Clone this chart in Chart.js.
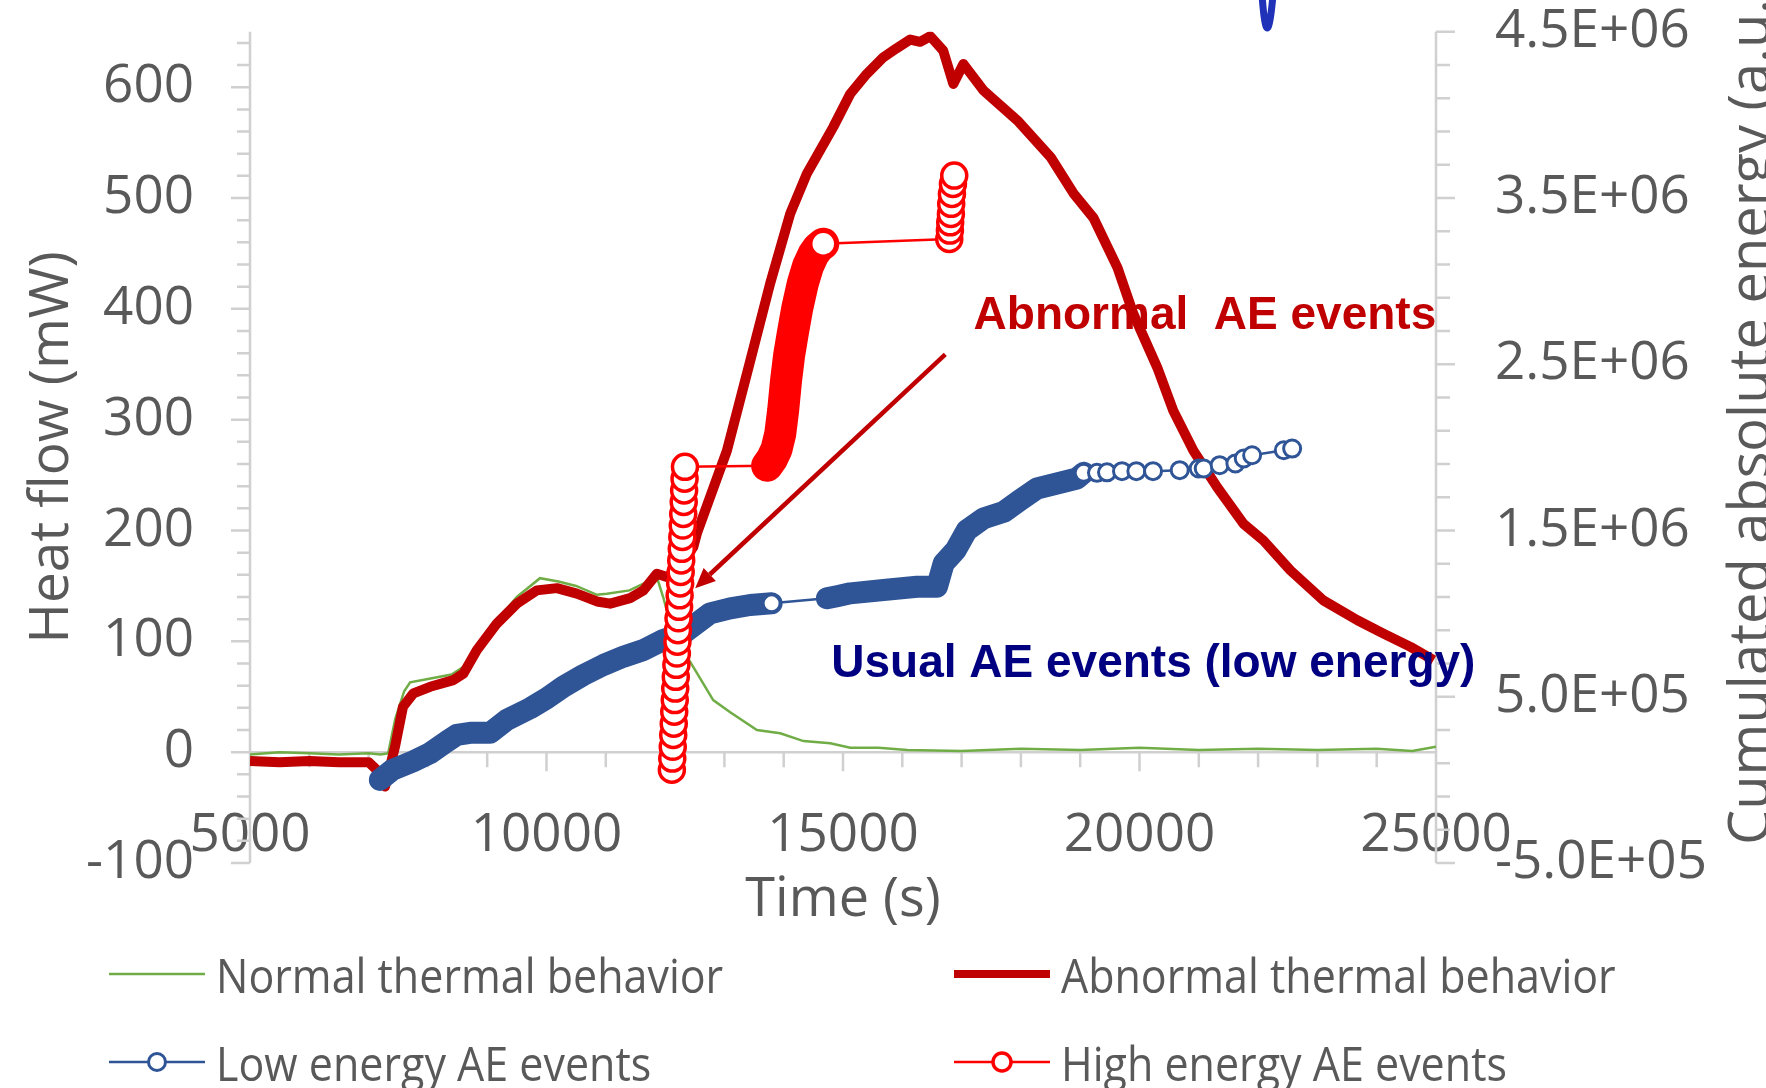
<!DOCTYPE html>
<html>
<head>
<meta charset="utf-8">
<title>Heat flow and AE events</title>
<script src="https://cdn.jsdelivr.net/npm/chart.js"></script>
<style>
  body { margin: 0; background: #fff; }
  #wrap { position: relative; width: 1766px; height: 1088px; overflow: hidden; }
  #legend { position: absolute; left: 0; top: 0; width: 100%; height: 100%; pointer-events: none; }
  #legend .item { position: absolute; display: flex; align-items: center; height: 60px; font: 43px 'Open Sans', sans-serif; color: #595959; white-space: nowrap; }
  #legend .item span { display: inline-block; transform: scaleY(1.12); }
  #legend svg { margin-right: 11px; }
</style>
</head>
<body>
<div id="wrap">
  <canvas id="chart"></canvas>
  <div id="legend"></div>
</div>
<script>
// axis ticks
const timeTicks = [5000, 10000, 15000, 20000, 25000];
const heatTicks = [-100, 0, 100, 200, 300, 400, 500, 600];
const energyTicks = [-5e5, 5e5, 1.5e6, 2.5e6, 3.5e6, 4.5e6];
const timeMinorStep = 1000;
const heatMinorStep = 20;
const energyMinorStep = 2e5;

// normal thermal behavior (heat flow, mW)
const normalTime = [5000, 5500, 6000, 6500, 7000, 7200, 7330, 7450, 7600, 7700, 8000, 8400, 8600, 8850, 9200,
  9500, 9890, 10200, 10500, 10850, 11017, 11400, 11635, 11861, 11967, 12085, 12304, 12530, 12811, 13098,
  13548, 13941, 14335, 14785, 15122, 15600, 16084, 17000, 18000, 19000, 20000, 21000, 22000, 23000, 24000, 24600, 25000];
const normalHeat = [-2, 0, -1, -2, -1, -2, -1, 30, 55, 63, 66, 70, 77, 97, 121,
  140, 157, 154, 150, 142, 143, 146, 152, 158, 140, 117, 92, 72, 47, 36,
  20, 17, 10, 8, 4, 4, 2, 1, 3, 2, 4, 2, 3, 2, 3, 1, 5];

// abnormal thermal behavior (heat flow, mW)
const abnormalTime = [5000, 5500, 6000, 6500, 7000, 7137, 7277, 7446, 7580, 7755, 8037, 8430, 8600, 8824, 9162,
  9500, 9837, 10175, 10512, 10850, 11073, 11410, 11635, 11861, 12030, 12200, 12475, 12540, 13042, 13435,
  13772, 14110, 14391, 14835, 15122, 15400, 15680, 15900, 16134, 16300, 16472, 16690, 16860, 17030, 17370,
  17940, 18500, 18890, 19225, 19630, 19900, 20300, 20570, 20910, 21310, 21755, 22090, 22545, 23100, 23675,
  24115, 24570, 24960];
const abnormalHeat = [-8, -9, -8, -9, -9, -16, -31, 5, 41, 53, 59, 65, 71, 92, 116,
  134, 146, 148, 143, 136, 134, 139, 146, 161, 158, 165, 185, 198, 272, 353,
  423, 486, 522, 564, 594, 612, 627, 635, 643, 641, 646, 633, 603, 621, 597,
  570, 537, 504, 482, 437, 395, 347, 308, 272, 239, 206, 191, 164, 137, 119,
  107, 95, 83];

// low energy AE events (cumulated energy, a.u.)
const lowTime = [7190, 7400, 7750, 8037, 8318, 8487, 8712, 9049, 9330, 9724, 10005, 10286, 10623, 10960, 11298,
  11635, 11973, 12310, 12535, 12760, 13098, 13435, 13796, 14729, 14900, 15122, 15684, 16247, 16585, 16697,
  16900, 17089, 17370, 17708, 17989, 18270, 18608, 18946, 19058, 19283, 19452, 19705, 19947, 20228, 20678,
  20998, 21083, 21352, 21617, 21758, 21899, 22433, 22574];
const lowEnergy = [0, 60000, 111000, 161000, 231000, 271000, 283000, 283000, 361000, 431000, 491000, 561000, 631000, 691000, 741000,
  781000, 842000, 882000, 942000, 1002000, 1032000, 1052000, 1062000, 1092000, 1105000, 1122000, 1142000, 1162000, 1162000, 1302000,
  1382000, 1502000, 1573000, 1612000, 1683000, 1753000, 1783000, 1813000, 1847000, 1847000, 1850000, 1857000, 1857000, 1857000, 1863000,
  1873000, 1873000, 1893000, 1903000, 1933000, 1953000, 1983000, 1993000];
// time spans where low energy events pile up into a solid band
const lowDenseRuns = [[7190, 13796], [14729, 19058]];

// high energy AE events (cumulated energy, a.u.)
const highTime = [12114, 12121, 12129, 12137, 12146, 12154, 12163, 12171, 12180, 12190, 12199, 12208, 12217, 12226, 12236,
  12245, 12254, 12263, 12272, 12281, 12290, 12298, 12306, 12314, 12321, 12328, 12335,
  13720, 13800, 13880, 13941, 13990, 14039, 14090, 14150, 14230, 14325, 14410, 14500, 14580, 14667,
  16792, 16803, 16808, 16820, 16825, 16837, 16854, 16876];
const highEnergy = [61000, 128000, 199000, 270000, 338000, 410000, 480000, 549000, 620000, 692000, 760000, 831000, 900000, 972000, 1041000,
  1110000, 1182000, 1251000, 1320000, 1390000, 1461000, 1530000, 1600000, 1672000, 1741000, 1812000, 1883000,
  1890000, 1930000, 1990000, 2080000, 2220000, 2400000, 2550000, 2680000, 2840000, 2990000, 3090000, 3160000, 3200000, 3225000,
  3254000, 3304000, 3354000, 3404000, 3465000, 3525000, 3585000, 3635000];
const highDenseRuns = [[13720, 14667]];

// annotations, in data units of the heat flow axis
const abnormalNote = { text: 'Abnormal  AE events', x: 17202, y: 382 };
const usualNote = { text: 'Usual AE events (low energy)', x: 14802, y: 68 };
const arrowFrom = { x: 16725, y: 359 };
const arrowTo = { x: 12507, y: 148 };

const legendCols = [109, 954];
const legendRows = [974, 1062];

Chart.defaults.font.family = "'Open Sans', sans-serif";
Chart.defaults.color = '#595959';

function pts(xs, ys) {
  return xs.map((x, i) => ({ x: x, y: ys[i] }));
}

function inRuns(t, runs) {
  return runs.some(r => t >= r[0] && t < r[1]);
}

function segInRuns(ctx, runs) {
  return runs.some(r => ctx.p0.parsed.x >= r[0] && ctx.p1.parsed.x <= r[1]);
}

function sci(v) {
  const e = Math.floor(Math.log10(Math.abs(v)));
  const m = (v / Math.pow(10, e)).toFixed(1);
  return m + 'E' + (e < 0 ? '-' : '+') + String(Math.abs(e)).padStart(2, '0');
}

// invisible tick marks, only used to push the labels away from the axis
function hiddenGrid(len) {
  return { display: true, drawOnChartArea: false, drawTicks: true, tickLength: len, color: 'rgba(0,0,0,0)' };
}

const axisLines = {
  id: 'axisLines',
  beforeDatasetsDraw(chart) {
    const { ctx, chartArea: a, scales: { x, y, y2 } } = chart;
    const y0 = y.getPixelForValue(0);
    ctx.save();
    ctx.strokeStyle = '#d0d0d0';
    ctx.lineWidth = 2.5;
    ctx.beginPath();
    ctx.moveTo(a.left, a.top); ctx.lineTo(a.left, a.bottom);
    ctx.moveTo(a.right, a.top); ctx.lineTo(a.right, a.bottom);
    ctx.moveTo(a.left, y0); ctx.lineTo(a.right, y0);
    for (let k = 0; y.min + k * heatMinorStep <= y.max; k++) {
      const v = y.min + k * heatMinorStep;
      const p = y.getPixelForValue(v);
      ctx.moveTo(a.left - (heatTicks.includes(v) ? 19 : 13), p); ctx.lineTo(a.left, p);
    }
    for (let k = 0; y2.min + k * energyMinorStep <= y2.max + 1; k++) {
      const v = y2.min + k * energyMinorStep;
      const p = y2.getPixelForValue(v);
      ctx.moveTo(a.right, p); ctx.lineTo(a.right + (energyTicks.includes(v) ? 19 : 14), p);
    }
    for (let k = 0; x.min + k * timeMinorStep <= x.max; k++) {
      const v = x.min + k * timeMinorStep;
      const p = x.getPixelForValue(v);
      ctx.moveTo(p, y0); ctx.lineTo(p, y0 + (timeTicks.includes(v) ? 19 : 15));
    }
    ctx.stroke();
    ctx.restore();
  }
};

function drawArrow(ctx, x1, y1, x2, y2) {
  const ang = Math.atan2(y2 - y1, x2 - x1);
  const head = 20, half = 9;
  const bx = x2 - head * Math.cos(ang), by = y2 - head * Math.sin(ang);
  ctx.beginPath(); ctx.moveTo(x1, y1); ctx.lineTo(bx, by); ctx.stroke();
  ctx.beginPath();
  ctx.moveTo(x2, y2);
  ctx.lineTo(bx + half * Math.sin(ang), by - half * Math.cos(ang));
  ctx.lineTo(bx - half * Math.sin(ang), by + half * Math.cos(ang));
  ctx.closePath();
  ctx.fill();
}

const notes = {
  id: 'notes',
  afterDatasetsDraw(chart) {
    const { ctx, scales: { x, y } } = chart;
    ctx.save();
    ctx.font = "bold 46px 'Liberation Sans', Arial, sans-serif";
    ctx.textBaseline = 'alphabetic';
    ctx.textAlign = 'left';
    ctx.fillStyle = '#C00000';
    ctx.fillText(abnormalNote.text, x.getPixelForValue(abnormalNote.x), y.getPixelForValue(abnormalNote.y));
    ctx.fillStyle = '#000080';
    ctx.fillText(usualNote.text, x.getPixelForValue(usualNote.x), y.getPixelForValue(usualNote.y));
    ctx.strokeStyle = '#C00000';
    ctx.fillStyle = '#C00000';
    ctx.lineWidth = 4.5;
    drawArrow(ctx, x.getPixelForValue(arrowFrom.x), y.getPixelForValue(arrowFrom.y),
      x.getPixelForValue(arrowTo.x), y.getPixelForValue(arrowTo.y));
    ctx.restore();
  },
  afterDraw(chart) {
    const { ctx, chartArea: a, scales: { y2 } } = chart;
    ctx.save();
    // right axis title, runs off the top of the picture
    ctx.translate(y2.right + 3, a.bottom - 18);
    ctx.rotate(-Math.PI / 2);
    ctx.font = "56px 'Open Sans', sans-serif";
    ctx.fillStyle = '#595959';
    ctx.textAlign = 'left';
    ctx.textBaseline = 'alphabetic';
    ctx.fillText('Cumulated absolute energy (a.u.)', 0, 0);
    ctx.restore();
    // stray blue stroke at the top edge
    ctx.save();
    ctx.strokeStyle = '#1f32b8';
    ctx.lineWidth = 7;
    ctx.lineCap = 'round';
    ctx.beginPath();
    ctx.moveTo(1262, -5);
    ctx.quadraticCurveTo(1267, 61, 1273, -5);
    ctx.stroke();
    ctx.restore();
  }
};

const htmlLegend = {
  id: 'htmlLegend',
  afterUpdate(chart) {
    const box = document.getElementById('legend');
    box.innerHTML = '';
    chart.data.datasets.forEach((ds, i) => {
      const item = document.createElement('div');
      item.className = 'item';
      item.style.left = legendCols[i % 2] + 'px';
      item.style.top = (legendRows[Math.floor(i / 2)] - 30) + 'px';
      const r = ds.pointRadius ? Math.min(ds.pointRadius, 9) : 0;
      const lw = Math.min(ds.borderWidth, 8);
      const circle = r ? `<circle cx="48" cy="20" r="${r}" fill="#fff" stroke="${ds.borderColor}" stroke-width="${ds.pointBorderWidth}"/>` : '';
      item.innerHTML = `<svg width="96" height="40"><line x1="0" y1="20" x2="96" y2="20" stroke="${ds.borderColor}" stroke-width="${lw}"/>${circle}</svg><span>${ds.label}</span>`;
      box.appendChild(item);
    });
  }
};

new Chart(document.getElementById('chart'), {
  type: 'line',
  data: {
    datasets: [{
      label: 'Normal thermal behavior',
      data: pts(normalTime, normalHeat),
      yAxisID: 'y',
      borderColor: '#70AD47',
      borderWidth: 2.5,
      pointRadius: 0,
      order: 4
    }, {
      label: 'Abnormal thermal behavior',
      data: pts(abnormalTime, abnormalHeat),
      yAxisID: 'y',
      borderColor: '#C00000',
      borderWidth: 10,
      borderJoinStyle: 'round',
      pointRadius: 0,
      order: 3
    }, {
      label: 'Low energy AE events',
      data: pts(lowTime, lowEnergy),
      yAxisID: 'y2',
      borderColor: '#2F5597',
      borderWidth: 2.5,
      borderJoinStyle: 'round',
      borderCapStyle: 'round',
      pointRadius: 8.5,
      pointBorderWidth: 3,
      pointBorderColor: '#2F5597',
      pointBackgroundColor: ctx => (ctx.parsed && inRuns(ctx.parsed.x, lowDenseRuns)) ? '#2F5597' : '#fff',
      segment: { borderWidth: ctx => segInRuns(ctx, lowDenseRuns) ? 22 : undefined },
      order: 2
    }, {
      label: 'High energy AE events',
      data: pts(highTime, highEnergy),
      yAxisID: 'y2',
      borderColor: '#FF0000',
      borderWidth: 2.5,
      borderJoinStyle: 'round',
      borderCapStyle: 'round',
      pointRadius: 12.5,
      pointBorderWidth: 3.5,
      pointBorderColor: '#FF0000',
      pointBackgroundColor: ctx => (ctx.parsed && inRuns(ctx.parsed.x, highDenseRuns)) ? '#FF0000' : '#fff',
      segment: { borderWidth: ctx => segInRuns(ctx, highDenseRuns) ? 32 : undefined },
      order: 1
    }]
  },
  options: {
    responsive: true,
    maintainAspectRatio: false,
    animation: false,
    events: [],
    layout: { padding: { top: 31, bottom: 128, left: 0, right: 0 } },
    elements: { line: { tension: 0 } },
    plugins: { legend: { display: false }, tooltip: { enabled: false } },
    scales: {
      x: {
        type: 'linear',
        min: 5000,
        max: 25000,
        grid: { display: false, drawTicks: false },
        border: { display: false },
        afterBuildTicks: s => { s.ticks = timeTicks.map(v => ({ value: v })); },
        // labels sit inside the plot, at its bottom edge, like the source chart
        ticks: { font: { size: 53 }, mirror: true, padding: -5, maxRotation: 0, autoSkip: false, callback: v => String(v) },
        title: { display: true, text: 'Time (s)', font: { size: 54 }, padding: { top: 0, bottom: 27 } },
        afterFit: s => { s.height = 97; }
      },
      y: {
        type: 'linear',
        position: 'left',
        min: -100,
        max: 650,
        grid: hiddenGrid(56),
        border: { display: false },
        afterBuildTicks: s => { s.ticks = heatTicks.map(v => ({ value: v })); },
        ticks: { font: { size: 53 }, padding: 0 },
        title: { display: true, text: 'Heat flow (mW)', font: { size: 55 }, padding: { top: 19, bottom: 0 } },
        afterFit: s => { s.width = 250; }
      },
      y2: {
        type: 'linear',
        position: 'right',
        min: -5e5,
        max: 4.5e6,
        grid: hiddenGrid(59),
        border: { display: false },
        afterBuildTicks: s => { s.ticks = energyTicks.map(v => ({ value: v })); },
        ticks: { font: { size: 53 }, padding: 0, callback: v => sci(v) },
        afterFit: s => { s.width = 330; }
      }
    }
  },
  plugins: [axisLines, notes, htmlLegend]
});
</script>
</body>
</html>
